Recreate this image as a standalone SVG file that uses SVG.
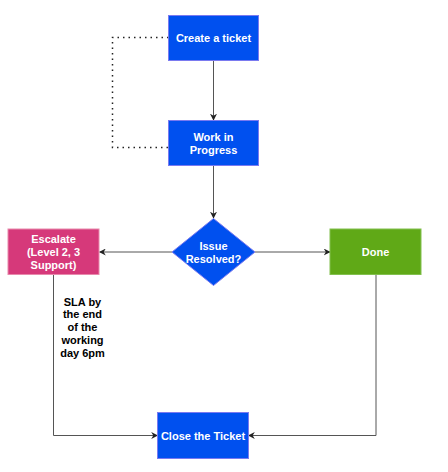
<svg xmlns="http://www.w3.org/2000/svg" width="448" height="472" viewBox="0 0 448 472">
<defs>
<marker id="arr" viewBox="0 0 10 10" refX="9" refY="5" markerWidth="7" markerHeight="7" markerUnits="userSpaceOnUse" orient="auto">
<path d="M0,0 L10,5 L0,10 L3,5 Z" fill="#222"/>
</marker>
</defs>
<style>
.blue{fill:#0050EF;stroke:#7A7AF0;stroke-width:1}
.pink{fill:#D6397A;stroke:#E889AC;stroke-width:1}
.green{fill:#60A917;stroke:#82C04E;stroke-width:1}
.lbl{font-family:"Liberation Sans",Arial,sans-serif;font-size:11px;font-weight:bold;fill:#fff;text-anchor:middle;dominant-baseline:central}
.note{font-family:"Liberation Sans",Arial,sans-serif;font-size:11px;font-weight:bold;fill:#000;text-anchor:middle;dominant-baseline:central}
.edge{fill:none;stroke:#555;stroke-width:1}
.dot{fill:none;stroke:#222;stroke-width:1.5;stroke-dasharray:1.5 4}
</style>
<rect width="448" height="472" fill="#fff"/>
<g id="connectors">
<path class="dot" d="M168.5,37.5 H112.5 V147.5 H168.5"/>
<path class="edge" d="M213.5,60.5 V120" marker-end="url(#arr)"/>
<path class="edge" d="M213.5,165.5 V218" marker-end="url(#arr)"/>
<path class="edge" d="M172,252 H99.5" marker-end="url(#arr)"/>
<path class="edge" d="M255,252 H330" marker-end="url(#arr)"/>
<path class="edge" d="M53.5,274.5 V435.5 H157.5" marker-end="url(#arr)"/>
<path class="edge" d="M376,274.5 V435.5 H248.5" marker-end="url(#arr)"/>
</g>
<g id="create">
<rect class="blue" x="168.5" y="15.5" width="90" height="45"/>
<text class="lbl" x="213.5" y="37.5">Create a ticket</text>
</g>
<g id="wip">
<rect class="blue" x="168.5" y="120.5" width="90" height="45"/>
<text class="lbl" x="213.5" y="136.5">Work in</text>
<text class="lbl" x="213.5" y="149.5">Progress</text>
</g>
<g id="decision">
<polygon class="blue" points="213.5,218.5 255,252 213.5,285.5 172,252"/>
<text class="lbl" x="213.5" y="245.5">Issue</text>
<text class="lbl" x="213.5" y="258.5">Resolved?</text>
</g>
<g id="escalate">
<rect class="pink" x="8" y="229" width="91" height="45.5"/>
<text class="lbl" x="53.5" y="238.5">Escalate</text>
<text class="lbl" x="53.5" y="251.5">(Level 2, 3</text>
<text class="lbl" x="53.5" y="264.5">Support)</text>
</g>
<g id="done">
<rect class="green" x="330" y="229" width="91" height="45.5"/>
<text class="lbl" x="375.5" y="251.5">Done</text>
</g>
<g id="close">
<rect class="blue" x="157.5" y="412.5" width="91" height="46"/>
<text class="lbl" x="203" y="435.5">Close the Ticket</text>
</g>
<g id="sla-note">
<text class="note" x="82.5" y="301.5">SLA by</text>
<text class="note" x="82.5" y="314">the end</text>
<text class="note" x="82.5" y="326.5">of the</text>
<text class="note" x="82.5" y="339.5">working</text>
<text class="note" x="82.5" y="352.5">day 6pm</text>
</g>
</svg>
